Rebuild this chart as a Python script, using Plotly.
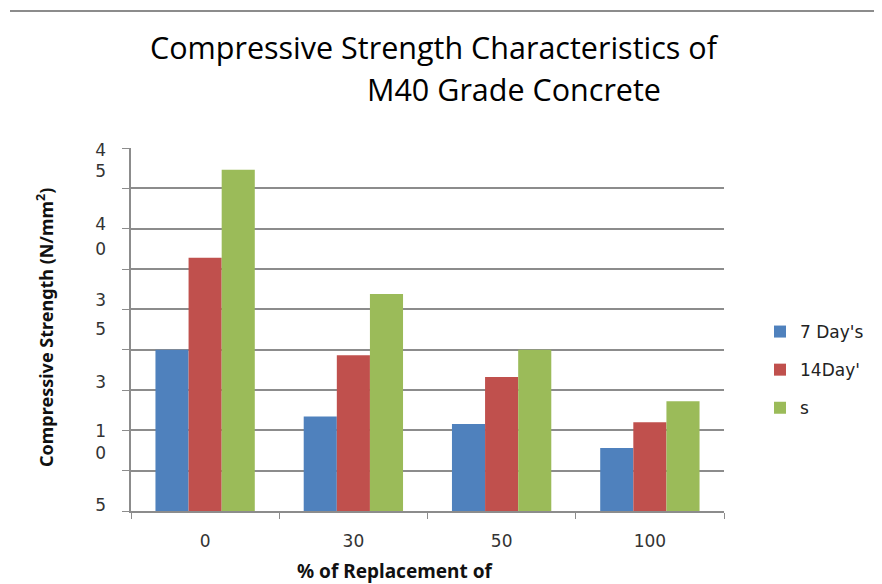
import plotly.graph_objects as go

categories = ["0", "30", "50", "100"]
series_names = ["7 Day's", "14Day'", "s"]
day7 = [20.0, 11.7, 10.8, 7.8]
day14 = [31.4, 19.3, 16.6, 11.0]
day28 = [42.3, 26.9, 20.0, 13.6]
series_values = [day7, day14, day28]
colors = ["#4F81BD", "#C0504D", "#9BBB59"]

# garbled (wrapped) y tick labels as they appear in the picture
ytick_vals = [44.8, 42.1, 35.6, 32.5, 26.2, 22.5, 16.0, 9.9, 7.2, 0.7]
ytick_text = ["4", "5", "4", "0", "3", "5", "3", "1", "0", "5"]

OFF = 8  # page body margin
W, H = 882 - OFF, 584 - OFF
L, R, T, B = 131 - OFF, 724 - OFF, 148 - OFF, 511 - OFF
pw, ph = R - L, B - T

def px(x):
    return (x - OFF - L) / pw

def py(y):
    return (B - (y - OFF)) / ph

fig = go.Figure()
for i, (name, vals, col) in enumerate(zip(series_names, series_values, colors)):
    fig.add_trace(go.Bar(x=categories, y=vals, name=name, marker_color=col,
                         marker_line_width=0, legendgroup=str(i)))

fig.add_trace(go.Scatter(x=categories, y=[None] * len(categories), yaxis="y2",
                         showlegend=False, hoverinfo="skip", mode="markers"))

tick_font = dict(family="DejaVu Sans", size=17, color="#333333")

fig.update_layout(
    width=W, height=H,
    margin=dict(l=L, r=W - R, t=T, b=H - B),
    paper_bgcolor="white", plot_bgcolor="white",
    barmode="group", bargap=0.33, bargroupgap=0,
    showlegend=True,
    legend=dict(x=px(760), y=py(314), xanchor="left", yanchor="top",
                font=dict(family="DejaVu Sans", size=17, color="#222222"),
                tracegroupgap=13, itemwidth=30, bgcolor="rgba(0,0,0,0)"),
    xaxis=dict(type="category", showline=True, linecolor="#8c8c8c", linewidth=1.5,
               ticks="outside", tickson="boundaries", ticklen=6, tickcolor="#8c8c8c",
               tickfont=tick_font, ticklabelstandoff=14, showgrid=False),
    yaxis=dict(range=[0, 45], dtick=5, tick0=0, showgrid=True, gridcolor="#8c8c8c",
               gridwidth=1.5, showline=True, linecolor="#8c8c8c", linewidth=1.5,
               ticks="outside", ticklen=7, tickcolor="#8c8c8c", showticklabels=False,
               zeroline=False),
    yaxis2=dict(range=[0, 45], overlaying="y", side="left", tickmode="array",
                tickvals=ytick_vals, ticktext=ytick_text, showgrid=False,
                ticks="", showline=False, zeroline=False, tickfont=tick_font,
                ticklabelstandoff=24),
)

fig.add_annotation(text="Compressive Strength Characteristics of", xref="paper", yref="paper",
                   x=px(434), y=py(47), showarrow=False, xanchor="center", yanchor="middle",
                   font=dict(family="Open Sans", size=30.5, color="#000000"))
fig.add_annotation(text="M40 Grade Concrete", xref="paper", yref="paper",
                   x=px(514), y=py(89), showarrow=False, xanchor="center", yanchor="middle",
                   font=dict(family="Open Sans", size=30.5, color="#000000"))
fig.add_annotation(text="Compressive Strength (N/mm<sup>2</sup>)", xref="paper", yref="paper",
                   x=px(45), y=py(328), showarrow=False, textangle=-90,
                   xanchor="center", yanchor="middle",
                   font=dict(family="Noto Sans", size=18, color="#111111", weight="bold"))
fig.add_annotation(text="% of Replacement of", xref="paper", yref="paper",
                   x=px(395), y=py(571), showarrow=False, xanchor="center", yanchor="middle",
                   font=dict(family="Noto Sans", size=19, color="#111111", weight="bold"))

fig.add_shape(type="line", xref="paper", yref="paper", x0=px(10), x1=px(882),
              y0=py(11), y1=py(11), line=dict(color="#8c8c8c", width=2))

fig.write_html("out.html")
